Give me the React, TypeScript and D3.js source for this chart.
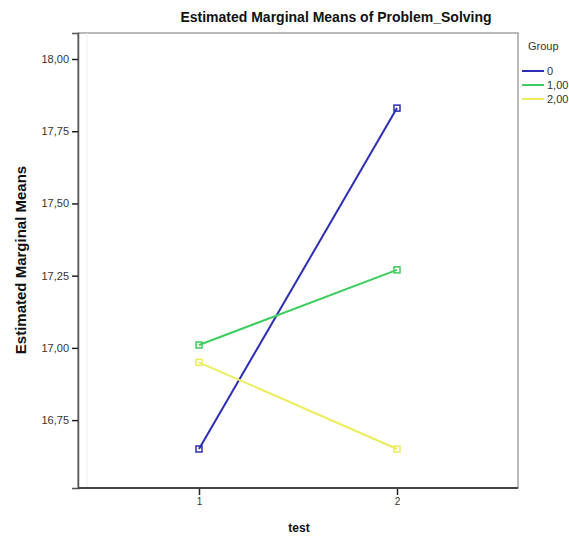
import React, { useEffect, useRef } from 'react';
import * as d3 from 'd3';

const tests = [1, 2];
const groups = ['0', '1,00', '2,00'];
const groupColors = ['#2d2db4', '#3ccd5c', '#ecec5c'];
const means = [
  [16.65, 17.83],
  [17.01, 17.27],
  [16.95, 16.65],
];
const yTicks = [16.75, 17.0, 17.25, 17.5, 17.75, 18.0];

const W = 569;
const H = 539;

const App = () => {
  const ref = useRef<SVGSVGElement>(null);

  useEffect(() => {
    const svg = d3.select(ref.current);
    svg.selectAll('*').remove();

    const left = 78, right = 518, top = 33, bottom = 488;
    const font = 'Arial, Liberation Sans, sans-serif';

    const x = d3.scaleLinear().domain([1, 2]).range([199, 397]);
    const y = d3.scaleLinear().domain([16.515, 18.09]).range([bottom, top]);

    svg.append('rect').attr('width', W).attr('height', H).attr('fill', '#fff');

    // frame
    svg.append('rect')
      .attr('x', left).attr('y', top)
      .attr('width', right - left).attr('height', bottom - top)
      .attr('fill', 'none').attr('stroke', '#8a8a8a').attr('stroke-width', 1.2);
    svg.append('line')
      .attr('x1', left + 9).attr('x2', left + 9).attr('y1', top).attr('y2', bottom)
      .attr('stroke', '#eeeeee');

    // y axis
    const yAxis = svg.append('g').attr('transform', `translate(${left},0)`)
      .call(d3.axisLeft(y).tickValues(yTicks).tickSize(6)
        .tickFormat(d => d3.format('.2f')(d as number).replace('.', ',')));
    yAxis.select('.domain').attr('stroke', '#555').attr('stroke-width', 1.5);
    yAxis.selectAll('line').attr('stroke', '#222').attr('stroke-width', 1.5);
    yAxis.selectAll('text').attr('font-family', font)
      .attr('font-size', 11).attr('fill', '#333').attr('x', -9);

    // x axis
    const xAxis = svg.append('g').attr('transform', `translate(0,${bottom})`)
      .call(d3.axisBottom(x).tickValues(tests).tickSize(7).tickFormat(d3.format('d')));
    xAxis.select('.domain').remove();
    xAxis.append('line').attr('x1', left).attr('x2', right)
      .attr('stroke', '#444').attr('stroke-width', 1.8);
    xAxis.selectAll('.tick line').attr('stroke', '#222').attr('stroke-width', 1.5);
    xAxis.selectAll('text').attr('font-family', font)
      .attr('font-size', 10).attr('fill', '#333').attr('y', 10);

    // lines
    const line = d3.line<number>().x((_, i) => x(tests[i])).y(d => y(d));
    means.forEach((vals, g) => {
      svg.append('path').datum(vals)
        .attr('d', line)
        .attr('fill', 'none')
        .attr('stroke', groupColors[g])
        .attr('stroke-width', 2);
      svg.selectAll(null).data(vals).enter().append('rect')
        .attr('x', (_, i) => x(tests[i]) - 3)
        .attr('y', d => y(d) - 3)
        .attr('width', 6).attr('height', 6)
        .attr('fill', 'none')
        .attr('stroke', groupColors[g])
        .attr('stroke-width', 1.5);
    });

    // title and axis labels
    svg.append('text')
      .attr('x', 336).attr('y', 22)
      .attr('text-anchor', 'middle')
      .attr('font-family', font)
      .attr('font-weight', 'bold').attr('font-size', 14)
      .attr('fill', '#111')
      .text('Estimated Marginal Means of Problem_Solving');

    svg.append('text')
      .attr('transform', 'translate(26,260) rotate(-90)')
      .attr('text-anchor', 'middle')
      .attr('font-family', font)
      .attr('font-weight', 'bold').attr('font-size', 15)
      .attr('fill', '#111')
      .text('Estimated Marginal Means');

    svg.append('text')
      .attr('x', 299).attr('y', 532)
      .attr('text-anchor', 'middle')
      .attr('font-family', font)
      .attr('font-weight', 'bold').attr('font-size', 12)
      .attr('fill', '#111')
      .text('test');

    // legend
    const legend = svg.append('g').attr('transform', 'translate(522,0)');
    legend.append('text')
      .attr('x', 6).attr('y', 50)
      .attr('font-family', font)
      .attr('font-size', 11).attr('fill', '#333')
      .text('Group');
    groups.forEach((name, i) => {
      const ly = 71 + i * 14;
      legend.append('line')
        .attr('x1', 0).attr('x2', 22).attr('y1', ly).attr('y2', ly)
        .attr('stroke', groupColors[i]).attr('stroke-width', 2);
      legend.append('text')
        .attr('x', 25).attr('y', ly + 4)
        .attr('font-family', font)
        .attr('font-size', 11).attr('fill', '#333')
        .text(name);
    });
  }, []);

  return (
    <svg ref={ref} width={W} height={H}
      style={{ position: 'absolute', left: 0, top: 0 }} />
  );
};

export default App;
